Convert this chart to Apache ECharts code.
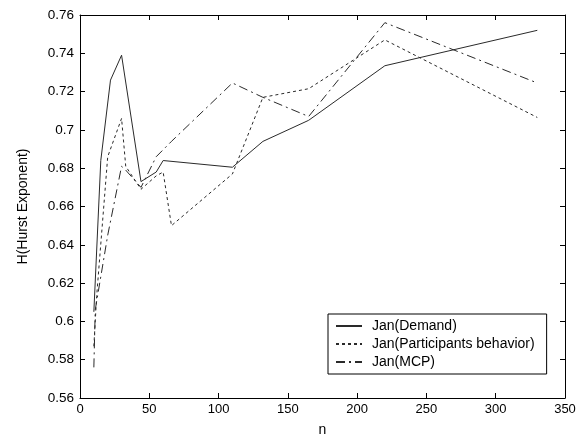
<!DOCTYPE html>
<html><head><meta charset="utf-8">
<script src="https://cdn.jsdelivr.net/npm/echarts@6/dist/echarts.min.js"></script>
<style>html,body{margin:0;padding:0;background:#fff}#c{width:586px;height:442px}</style>
</head><body><div id="c"></div>
<script>
var seriesNames = ['Jan(Demand)', 'Jan(Participants behavior)', 'Jan(MCP)'];
var demand = [[10,0.605],[15,0.684],[22,0.726],[30,0.739],[44,0.673],[55,0.678],[60,0.684],[110,0.6805],[132,0.694],[165,0.705],[220,0.7335],[330,0.752]];
var participants = [[10,0.587],[12,0.613],[20,0.686],[30,0.706],[33,0.681],[44,0.669],[55,0.676],[60,0.678],[66,0.65],[110,0.677],[132,0.717],[165,0.7215],[220,0.747],[330,0.7065]];
var mcp = [[10,0.576],[11,0.606],[20,0.645],[30,0.681],[33,0.679],[44,0.670],[55,0.686],[66,0.694],[110,0.7245],[132,0.717],[165,0.707],[220,0.756],[330,0.7245]];
var xName = 'n';
var yName = 'H(Hurst Exponent)';

var chart = echarts.init(document.getElementById('c'), null, {renderer:'canvas'});
var font = 'Liberation Sans, Arial, sans-serif';
var axisCommon = {
  axisLine:{show:true, onZero:false, lineStyle:{color:'#000', width:1}},
  axisTick:{show:true, inside:true, length:5, lineStyle:{color:'#000'}},
  splitLine:{show:false}
};
function fmtY(v){ return String(parseFloat(v.toFixed(2))); }
var lineColor = '#2a2a2a';
chart.setOption({
  animation:false,
  backgroundColor:'#fff',
  grid:{left:80, right:21, top:15, bottom:43},
  xAxis:[
    Object.assign({type:'value', min:0, max:350, interval:50, position:'bottom',
      name:xName, nameLocation:'middle', nameGap:25, nameTextStyle:{fontFamily:font, fontSize:14, color:'#000'},
      axisLabel:{fontFamily:font, fontSize:13, color:'#000', margin:5}}, axisCommon),
    Object.assign({type:'value', min:0, max:350, interval:50, position:'top', axisLabel:{show:false}}, axisCommon)
  ],
  yAxis:[
    Object.assign({type:'value', min:0.56, max:0.76, interval:0.02, position:'left',
      name:yName, nameLocation:'middle', nameGap:50, nameTextStyle:{fontFamily:font, fontSize:14, color:'#000'},
      axisLabel:{fontFamily:font, fontSize:13.5, color:'#000', margin:6, formatter:fmtY}}, axisCommon),
    Object.assign({type:'value', min:0.56, max:0.76, interval:0.02, position:'right', axisLabel:{show:false}}, axisCommon)
  ],
  legend:{
    orient:'vertical', left:328, top:314,
    backgroundColor:'#fff', borderColor:'#000', borderWidth:1,
    padding:[4,12,4,7], itemGap:2, itemWidth:26, itemHeight:14,
    itemStyle:{opacity:0},
    textStyle:{fontFamily:font, fontSize:14, color:'#000', padding:[0,0,0,5], lineHeight:16},
    data:seriesNames
  },
  series:[
    {name:seriesNames[0], type:'line', data:demand, symbol:'none', showSymbol:false,
      lineStyle:{color:lineColor, width:1, type:'solid'}, itemStyle:{color:lineColor}},
    {name:seriesNames[1], type:'line', data:participants, symbol:'none', showSymbol:false,
      lineStyle:{color:lineColor, width:1, type:[3,3]}, itemStyle:{color:lineColor}},
    {name:seriesNames[2], type:'line', data:mcp, symbol:'none', showSymbol:false,
      lineStyle:{color:lineColor, width:1, type:[9,4,2,4]}, itemStyle:{color:lineColor}}
  ]
});
</script></body></html>
